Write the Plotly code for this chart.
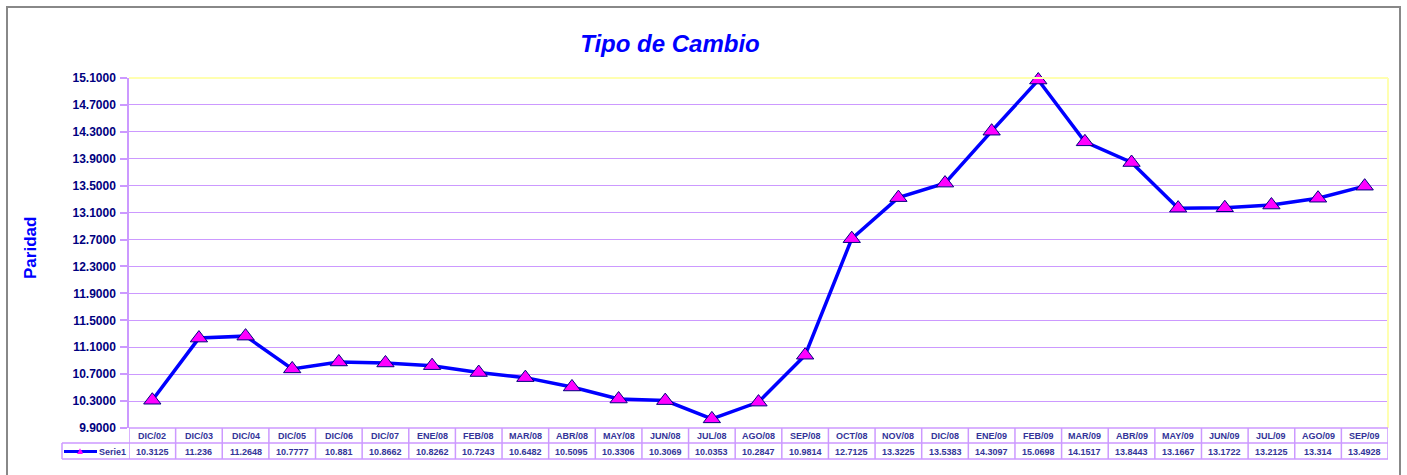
import plotly.graph_objects as go

categories = ["DIC/02", "DIC/03", "DIC/04", "DIC/05", "DIC/06", "DIC/07", "ENE/08", "FEB/08",
              "MAR/08", "ABR/08", "MAY/08", "JUN/08", "JUL/08", "AGO/08", "SEP/08", "OCT/08",
              "NOV/08", "DIC/08", "ENE/09", "FEB/09", "MAR/09", "ABR/09", "MAY/09", "JUN/09",
              "JUL/09", "AGO/09", "SEP/09"]
value_labels = ["10.3125", "11.236", "11.2648", "10.7777", "10.881", "10.8662", "10.8262", "10.7243",
                "10.6482", "10.5095", "10.3306", "10.3069", "10.0353", "10.2847", "10.9814", "12.7125",
                "13.3225", "13.5383", "14.3097", "15.0698", "14.1517", "13.8443", "13.1667", "13.1722",
                "13.2125", "13.314", "13.4928"]
serie1 = [float(v) for v in value_labels]
series_name = "Serie1"
title_text = "Tipo de Cambio"
y_title = "Paridad"

W, H = 1407, 475
L, R, T, B = 129, 19, 78, 47
PW, PH = W - L - R, H - T - B

def px_x(p):
    return (p - L) / PW

def px_y(p):
    return (H - B - p) / PH

FONT = "Arial, Liberation Sans, sans-serif"
GRID = "#CC99FF"
TXT = "#333399"

fig = go.Figure()
fig.add_trace(go.Scatter(
    x=list(range(len(categories))), y=serie1, mode="lines+markers", name=series_name,
    line=dict(color="#0000FF", width=3.5),
    marker=dict(symbol="triangle-up", size=15, color="#FF00FF", line=dict(color="#000080", width=1)),
    cliponaxis=False, showlegend=False,
))

shapes = []
# outer frame
shapes.append(dict(type="rect", xref="paper", yref="paper", x0=px_x(7), x1=px_x(1400),
                   y0=px_y(490), y1=px_y(7), line=dict(color="#888888", width=2), layer="below"))
# plot border top and right (light yellow)
shapes.append(dict(type="line", xref="paper", yref="paper", x0=0, x1=1, y0=1, y1=1,
                   line=dict(color="#FFFFB0", width=2)))
shapes.append(dict(type="line", xref="paper", yref="paper", x0=1, x1=1, y0=0, y1=1,
                   line=dict(color="#FFFFB0", width=2)))
# table lines
row1_bot = px_y(443)
row2_bot = px_y(459)
shapes.append(dict(type="line", xref="paper", yref="paper", x0=0, x1=1, y0=0, y1=0,
                   line=dict(color=GRID, width=1.5)))
for yy in (row1_bot, row2_bot):
    shapes.append(dict(type="line", xref="paper", yref="paper", x0=px_x(62), x1=1, y0=yy, y1=yy,
                       line=dict(color=GRID, width=1.5)))
n = len(categories)
for k in range(n + 1):
    shapes.append(dict(type="line", xref="x", yref="paper", x0=k - 0.5, x1=k - 0.5, y0=row2_bot, y1=0,
                       line=dict(color=GRID, width=1.5)))
shapes.append(dict(type="line", xref="paper", yref="paper", x0=px_x(62), x1=px_x(62), y0=row2_bot, y1=row1_bot,
                   line=dict(color=GRID, width=1.5)))
# legend line sample
shapes.append(dict(type="line", xref="paper", yref="paper", x0=px_x(64), x1=px_x(97),
                   y0=px_y(451.5), y1=px_y(451.5), line=dict(color="#0000FF", width=3)))

annotations = []
for i, (c, v) in enumerate(zip(categories, value_labels)):
    annotations.append(dict(x=i, y=px_y(435.5), xref="x", yref="paper", text="<b>" + c + "</b>", showarrow=False,
                            font=dict(family=FONT, size=9, color=TXT), xanchor="center", yanchor="middle"))
    annotations.append(dict(x=i, y=px_y(451.5), xref="x", yref="paper", text="<b>" + v + "</b>", showarrow=False,
                            font=dict(family=FONT, size=9, color=TXT), xanchor="center", yanchor="middle"))
annotations.append(dict(x=px_x(79.5), y=px_y(450.5), xref="paper", yref="paper", text="▲", showarrow=False,
                        font=dict(family=FONT, size=10, color="#FF00FF"), xanchor="center", yanchor="middle"))
annotations.append(dict(x=px_x(97), y=px_y(451.5), xref="paper", yref="paper", text="<b>" + series_name + "</b>",
                        showarrow=False, font=dict(family=FONT, size=9, color=TXT), xanchor="left", yanchor="middle"))
annotations.append(dict(x=px_x(30), y=px_y(248), xref="paper", yref="paper", text="<b>" + y_title + "</b>",
                        showarrow=False, textangle=-90, font=dict(family=FONT, size=17, color="#0000FF"),
                        xanchor="center", yanchor="middle"))

fig.update_layout(
    width=W, height=H,
    margin=dict(l=L, r=R, t=T, b=B),
    paper_bgcolor="white", plot_bgcolor="white",
    title=dict(text="<b><i>" + title_text + "</i></b>", x=670 / W, xanchor="center",
               y=1 - 44 / H, yanchor="middle", font=dict(family=FONT, size=24, color="#0000FF")),
    xaxis=dict(range=[-0.5, n - 0.5], showticklabels=False, showgrid=False, zeroline=False,
               showline=False, ticks=""),
    yaxis=dict(range=[9.9, 15.1], tick0=9.9, dtick=0.4, tickformat=".4f", showgrid=True, gridcolor=GRID,
               gridwidth=1, zeroline=False, showline=True, linecolor=GRID, linewidth=1.5,
               ticks="outside", ticklen=7, tickcolor=GRID, tickwidth=1.5,
               tickfont=dict(family=FONT, size=12, color="#000080"), ticklabelstandoff=2),
    shapes=shapes, annotations=annotations,
)
fig.update_yaxes(tickprefix="<b>", ticksuffix="</b>")

fig.write_html("out.html", config={"displayModeBar": False},
               post_script="document.body.style.margin='0';document.body.style.overflow='hidden';")
